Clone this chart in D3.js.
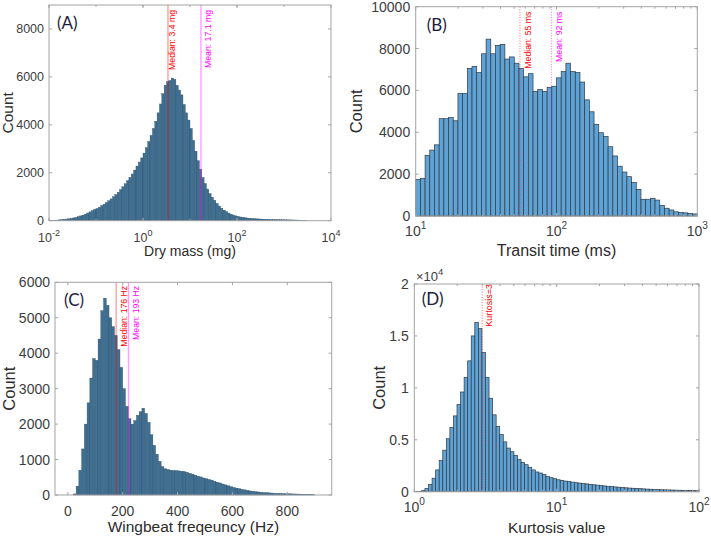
<!DOCTYPE html>
<html><head><meta charset="utf-8">
<script src="https://cdn.jsdelivr.net/npm/d3@7/dist/d3.min.js"></script>
<style>html,body{margin:0;padding:0;background:#fff}svg{display:block}</style>
</head><body>
<script>
// ---------------- DATA ----------------
// (A) Dry mass histogram, log-spaced bins from 10^-2 to 10^3.5
const dryMassRange = [0.01, 3162.3];
const dryMassCounts = [10,15,20,25,35,45,55,65,80,95,115,140,170,200,235,270,320,370,420,470,
510,560,630,690,760,830,910,1000,1090,1190,1300,1420,1540,1670,1810,1950,2110,2280,2450,2620,
2820,3050,3300,3560,3850,4150,4500,4870,5300,5650,5800,5850,5950,5900,5650,5450,5250,4850,4500,4200,
3850,3350,2900,2500,2150,1800,1550,1320,1130,980,850,720,610,520,440,380,320,270,235,200,
175,155,140,125,110,100,92,85,78,72,67,62,58,55,52,49,46,44,42,40,
38,36,34,32,30,28,25,20,15,10];
const dryMassStats = [
  {label: "Median: 3.4 mg", value: 3.4, color: "#ff0000"},
  {label: "Mean: 17.1 mg", value: 17.1, color: "#ff00ff"}
];
// (B) Transit time histogram, log bins 10..1000 ms
const transitRange = [10, 1000];
const transitCounts = [1750,1800,2900,3150,3400,4650,4650,4700,4550,5850,5850,7050,7150,6850,7750,8450,7750,8150,8200,7500,
7600,7300,7050,6650,6800,5950,6050,5950,6150,6200,6600,6900,7300,6900,6850,6400,5550,4980,4380,3980,
3800,3310,2870,2380,2100,1880,1600,1270,800,800,850,760,500,370,290,200,170,150,120,100];
const transitStats = [
  {label: "Median: 55 ms", value: 55, color: "#ff0000"},
  {label: "Mean: 92 ms", value: 92, color: "#ff00ff"}
];
// (C) Wingbeat frequency histogram, 10 Hz bins 0..900 Hz
const wingbeatRange = [0, 900];
const wingbeatCounts = [0,0,30,250,700,1300,2000,2600,3300,3850,3800,4400,5200,5550,5350,5000,4750,4500,4100,3600,
3000,2500,2150,2000,2100,2250,2350,2450,2300,2050,1700,1400,1150,950,800,740,720,700,690,690,
680,670,660,640,610,590,560,530,510,480,460,440,420,390,360,340,310,285,260,235,
215,195,180,160,145,130,115,105,95,85,75,70,65,60,55,50,45,42,40,37,
35,32,30,28,25,22,20,17,15,12];
const wingbeatStats = [
  {label: "Median: 176 Hz", value: 176, color: "#ff0000"},
  {label: "Mean: 193 Hz", value: 221, color: "#ff00ff"}
];
// (D) Kurtosis histogram, log bins 1..100
const kurtosisRange = [1, 100];
const kurtosisCounts = [10,30,100,300,700,1300,2100,3000,4000,5100,6200,7300,8400,9600,11000,12600,15000,16300,15700,13400,
11000,9000,7400,6300,5500,4800,4200,3850,3500,3100,2800,2600,2350,2100,1900,1800,1650,1450,1350,1250,
1150,1080,1020,970,920,870,830,790,750,710,670,630,590,555,520,490,460,430,400,375,
350,330,310,290,270,250,235,220,205,190,180,170,160,150,140,130,120,110,100,90];
const kurtosisStats = [
  {label: "Kurtosis=3", value: 3, color: "#ff0000"}
];

const yTicksA = [0, 2000, 4000, 6000, 8000];
const yTicksB = [0, 2000, 4000, 6000, 8000, 10000];
const yTicksC = [0, 1000, 2000, 3000, 4000, 5000, 6000];
const yTicksD = [0, 5000, 10000, 15000, 20000];
const yTickLabelsD = ["0", "0.5", "1", "1.5", "2"];
const xTicksA = [-2, 0, 2, 4];          // exponents
const xTicksB = [1, 2, 3];
const xTicksC = [0, 200, 400, 600, 800];
const xTicksD = [0, 1, 2];

// ---------------- DRAW ----------------
const W = 711, H = 539;
const svg = d3.select("body").append("svg").attr("width", W).attr("height", H)
  .style("background", "#fff");
const FONT = "'Liberation Sans', Arial, sans-serif";
const BOX = "#a3a3a3";
const TICKTXT = "#3d3d3d";

function logEdges(range, n) {
  const l0 = Math.log10(range[0]), l1 = Math.log10(range[1]);
  return d3.range(n + 1).map(i => Math.pow(10, l0 + (l1 - l0) * i / n));
}
function linEdges(range, n) {
  return d3.range(n + 1).map(i => range[0] + (range[1] - range[0]) * i / n);
}

function panel(o) {
  const g = svg.append("g");
  const x = (o.log ? d3.scaleLog() : d3.scaleLinear()).domain(o.xDomain).range([o.x0, o.x1]);
  const y = d3.scaleLinear().domain(o.yDomain).range([o.y1, o.y0]);
  const edges = o.log ? logEdges(o.range, o.counts.length) : linEdges(o.range, o.counts.length);
  const bins = o.counts.map((c, i) => ({a: edges[i], b: edges[i + 1], c}));

  g.append("g").selectAll("rect").data(bins).join("rect")
    .attr("x", d => x(d.a)).attr("width", d => Math.max(0, x(d.b) - x(d.a)))
    .attr("y", d => y(d.c)).attr("height", d => y(0) - y(d.c))
    .attr("fill", o.fill).attr("stroke", o.stroke).attr("stroke-width", o.sw);

  // stats lines
  o.stats.forEach((s, i) => {
    const xv = x(s.value);
    g.append("line").attr("x1", xv).attr("x2", xv).attr("y1", o.y0).attr("y2", o.y1)
      .attr("stroke", s.color).attr("stroke-width", o.dotted ? 1 : 1.4)
      .attr("stroke-opacity", o.dotted ? 0.6 : 0.38)
      .attr("stroke-dasharray", o.dotted ? "1,1.6" : null);
    g.append("text")
      .attr("transform", `translate(${xv + o.txtOff[i]},${o.y0 + o.txtTop}) rotate(-90)`)
      .attr("text-anchor", "end").attr("font-family", FONT).attr("font-size", o.statFont)
      .attr("fill", s.color).text(s.label);
  });

  // box
  g.append("rect").attr("x", o.x0).attr("y", o.y0).attr("width", o.x1 - o.x0).attr("height", o.y1 - o.y0)
    .attr("fill", "none").attr("stroke", BOX).attr("stroke-width", 1);

  const tl = 3;
  // y ticks
  o.yTicks.forEach((t, i) => {
    const yy = y(t);
    g.append("line").attr("x1", o.x0).attr("x2", o.x0 + tl).attr("y1", yy).attr("y2", yy).attr("stroke", BOX);
    g.append("line").attr("x1", o.x1).attr("x2", o.x1 - tl).attr("y1", yy).attr("y2", yy).attr("stroke", BOX);
    g.append("text").attr("x", o.x0 - o.yLabGap).attr("y", yy + o.tickFont * 0.36).attr("text-anchor", "end")
      .attr("font-family", FONT).attr("font-size", o.tickFont).attr("fill", TICKTXT)
      .text(o.yLabels ? o.yLabels[i] : d3.format("d")(t));
  });
  // x ticks
  const xt = o.log ? o.xTicks.map(e => Math.pow(10, e)) : o.xTicks;
  const minor = [];
  if (o.log) {
    const l0 = Math.round(Math.log10(o.xDomain[0])), l1 = Math.round(Math.log10(o.xDomain[1]));
    for (let e = l0; e < l1; e++) {
      if (o.minorDecades) minor.push(Math.pow(10, e));
      else for (let k = 2; k <= 9; k++) minor.push(k * Math.pow(10, e));
    }
  }
  minor.forEach(v => {
    const xx = x(v);
    g.append("line").attr("x1", xx).attr("x2", xx).attr("y1", o.y1).attr("y2", o.y1 - 2).attr("stroke", BOX);
    g.append("line").attr("x1", xx).attr("x2", xx).attr("y1", o.y0).attr("y2", o.y0 + 2).attr("stroke", BOX);
  });
  xt.forEach((v, i) => {
    const xx = x(v);
    g.append("line").attr("x1", xx).attr("x2", xx).attr("y1", o.y1).attr("y2", o.y1 - tl).attr("stroke", BOX);
    g.append("line").attr("x1", xx).attr("x2", xx).attr("y1", o.y0).attr("y2", o.y0 + tl).attr("stroke", BOX);
    const t = g.append("text").attr("x", xx).attr("y", o.y1 + o.xLabDy).attr("text-anchor", "middle")
      .attr("font-family", FONT).attr("font-size", o.tickFont).attr("fill", TICKTXT);
    if (o.log) {
      t.append("tspan").text("10");
      t.append("tspan").attr("dy", -o.tickFont * 0.5).attr("font-size", o.tickFont * 0.72).text(String(o.xTicks[i]));
    } else t.text(v);
  });

  // axis labels
  g.append("text").attr("x", (o.x0 + o.x1) / 2).attr("y", o.xTitleY).attr("text-anchor", "middle")
    .attr("font-family", FONT).attr("font-size", o.titleFont).attr("fill", "#2b2b2b").text(o.xTitle);
  g.append("text").attr("transform", `translate(${o.yTitleX},${(o.y0 + o.y1) / 2}) rotate(-90)`)
    .attr("text-anchor", "middle").attr("font-family", FONT).attr("font-size", o.countFont)
    .attr("fill", "#2b2b2b").text("Count");
  // panel label
  g.append("text").attr("x", o.x0 + o.pl[0]).attr("y", o.y0 + o.pl[1])
    .attr("font-family", "Lato, 'Open Sans', sans-serif").attr("font-size", 17)
    .attr("fill", "#1c1c3c").text(o.panel);
  return g;
}

const darkFill = "#3f6f92", darkStroke = "#2c4d66";
const lightFill = "#5fa3d6", lightStroke = "#2e3a44";

panel({panel: "(A)", pl: [8, 24], x0: 49, x1: 331, y0: 5, y1: 220.7, log: true,
  xDomain: [0.01, 10000], yDomain: [0, 9000], range: dryMassRange, counts: dryMassCounts,
  fill: darkFill, stroke: darkStroke, sw: 0.35, stats: dryMassStats, dotted: false,
  txtOff: [7.5, 10], txtTop: 5, statFont: 8.7,
  tickFont: 12.5, yLabGap: 5, titleFont: 14, countFont: 15.5,
  yTicks: yTicksA, xTicks: xTicksA, minorDecades: true, xLabDy: 21.5,
  xTitle: "Dry mass (mg)", xTitleY: 256, yTitleX: 13});

panel({panel: "(B)", pl: [11, 24], x0: 415.7, x1: 697.3, y0: 6.7, y1: 216, log: true,
  xDomain: [10, 1000], yDomain: [0, 10000], range: transitRange, counts: transitCounts,
  fill: lightFill, stroke: lightStroke, sw: 0.7, stats: transitStats, dotted: true,
  txtOff: [11, 10.5], txtTop: 5, statFont: 8.7,
  tickFont: 14, yLabGap: 5.5, titleFont: 16, countFont: 16.5,
  yTicks: yTicksB, xTicks: xTicksB, minorDecades: false, xLabDy: 19.5,
  xTitle: "Transit time (ms)", xTitleY: 256, yTitleX: 362});

panel({panel: "(C)", pl: [9, 24], x0: 55, x1: 331.7, y0: 282.3, y1: 495, log: false,
  xDomain: [-47, 962], yDomain: [0, 6000], range: wingbeatRange, counts: wingbeatCounts,
  fill: darkFill, stroke: darkStroke, sw: 0.35, stats: wingbeatStats, dotted: false,
  txtOff: [11, 11], txtTop: 3.5, statFont: 8.7,
  tickFont: 14, yLabGap: 5, titleFont: 15.5, countFont: 16.5,
  yTicks: yTicksC, xTicks: xTicksC, xLabDy: 21, minorDecades: false,
  xTitle: "Wingbeat freqeuncy (Hz)", xTitleY: 532, yTitleX: 15});

panel({panel: "(D)", pl: [7.5, 21], x0: 414.3, x1: 699, y0: 284, y1: 491.7, log: true,
  xDomain: [1, 100], yDomain: [0, 20000], range: kurtosisRange, counts: kurtosisCounts,
  fill: lightFill, stroke: lightStroke, sw: 0.7, stats: kurtosisStats, dotted: true,
  txtOff: [9.5], txtTop: 0, statFont: 9,
  tickFont: 14, yLabGap: 5.5, titleFont: 15.5, countFont: 16.5,
  yTicks: yTicksD, yLabels: yTickLabelsD, xTicks: xTicksD, minorDecades: false, xLabDy: 20,
  xTitle: "Kurtosis value", xTitleY: 533, yTitleX: 385});

// x10^4 multiplier for panel D
const mult = svg.append("text").attr("x", 416).attr("y", 280.5).attr("font-family", FONT)
  .attr("font-size", 13).attr("fill", TICKTXT);
mult.append("tspan").text("\u00d710");
mult.append("tspan").attr("dy", -6).attr("font-size", 9.5).text("4");
</script>
</body></html>
